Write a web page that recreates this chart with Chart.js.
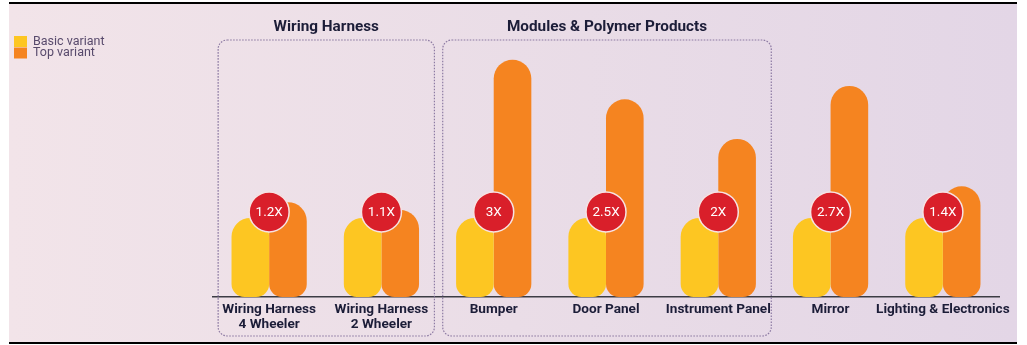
<!DOCTYPE html>
<html>
<head>
<meta charset="utf-8">
<script src="https://cdn.jsdelivr.net/npm/chart.js@4/dist/chart.umd.min.js"></script>
<style>
  html, body { margin: 0; padding: 0; background: #ffffff; }
  #wrap { position: relative; width: 1027px; height: 345px; }
</style>
</head>
<body>
<div id="wrap"><canvas id="c" width="1027" height="345"></canvas></div>
<script>
// ---- data ----
const categories = [
  ['Wiring Harness', '4 Wheeler'],
  ['Wiring Harness', '2 Wheeler'],
  'Bumper',
  'Door Panel',
  'Instrument Panel',
  'Mirror',
  'Lighting & Electronics'
];
const basicVariant = [1, 1, 1, 1, 1, 1, 1];
const topVariant = [1.2, 1.1, 3, 2.5, 2, 2.67, 1.4];
const multiplierLabels = ['1.2X', '1.1X', '3X', '2.5X', '2X', '2.7X', '1.4X'];
const seriesNames = ['Basic variant', 'Top variant'];
const groupLabels = ['Wiring Harness', 'Modules & Polymer Products'];
const groupStart = [0, 2];
const groupEnd = [1, 4];

// ---- style ----
const YELLOW = '#fdc622';
const ORANGE = '#f58420';
const BADGE = '#d91f2a';
const TEXT = '#1c1d38';
const FONT = 'Roboto, "Liberation Sans", sans-serif';

const backgroundPlugin = {
  id: 'bgPanel',
  beforeDraw(chart) {
    const ctx = chart.ctx;
    ctx.save();
    const g = ctx.createLinearGradient(9, 0, 1017, 0);
    g.addColorStop(0, '#f2e4e9');
    g.addColorStop(0.5, '#eadde7');
    g.addColorStop(1, '#e3d6e6');
    ctx.fillStyle = g;
    ctx.fillRect(9, 4, 1008, 338);
    ctx.fillStyle = '#000000';
    ctx.fillRect(9, 2, 1008, 2);
    ctx.fillRect(9, 342, 1008, 2);
    ctx.restore();
  }
};

const groupPlugin = {
  id: 'groups',
  beforeDatasetsDraw(chart) {
    const ctx = chart.ctx;
    const x = chart.scales.x;
    ctx.save();
    for (let g = 0; g < groupLabels.length; g++) {
      const left = x.getPixelForValue(groupStart[g]) - 51;
      const right = x.getPixelForValue(groupEnd[g]) + 53;
      const top = 40, bottom = 336, r = 9;
      ctx.beginPath();
      ctx.roundRect(left, top, right - left, bottom - top, r);
      ctx.setLineDash([1.6, 1.4]);
      ctx.lineWidth = 1.2;
      ctx.strokeStyle = 'rgba(125,105,150,0.85)';
      ctx.stroke();
      ctx.setLineDash([]);
      ctx.fillStyle = TEXT;
      ctx.font = 'bold 15.3px ' + FONT;
      ctx.textAlign = 'center';
      ctx.textBaseline = 'middle';
      ctx.fillText(groupLabels[g], (left + right) / 2, 27);
    }
    ctx.restore();
  }
};

const badgePlugin = {
  id: 'badges',
  afterDatasetsDraw(chart) {
    const ctx = chart.ctx;
    const x = chart.scales.x, y = chart.scales.y;
    ctx.save();
    for (let i = 0; i < categories.length; i++) {
      const cx = x.getPixelForValue(i);
      const cy = y.getPixelForValue(basicVariant[i]) - 6;
      ctx.beginPath();
      ctx.arc(cx, cy, 20, 0, Math.PI * 2);
      ctx.fillStyle = BADGE;
      ctx.fill();
      ctx.lineWidth = 1.5;
      ctx.strokeStyle = '#f6e3e3';
      ctx.stroke();
      ctx.fillStyle = '#ffffff';
      ctx.font = '13.5px ' + FONT;
      ctx.textAlign = 'center';
      ctx.textBaseline = 'middle';
      ctx.fillText(multiplierLabels[i], cx, cy + 1);
    }
    ctx.restore();
  }
};

const legendPlugin = {
  id: 'customLegend',
  afterDraw(chart) {
    const ctx = chart.ctx;
    ctx.save();
    chart.data.datasets.forEach((ds, k) => {
      const top = 36 + k * 11.5;
      ctx.fillStyle = ds.backgroundColor;
      ctx.fillRect(14, top, 13, 11);
      ctx.fillStyle = '#584a6c';
      ctx.font = '12.5px ' + FONT;
      ctx.textAlign = 'left';
      ctx.textBaseline = 'middle';
      ctx.fillText(ds.label, 33, top + 5.5);
    });
    ctx.restore();
  }
};

new Chart(document.getElementById('c'), {
  type: 'bar',
  data: {
    labels: categories,
    datasets: [
      {
        label: seriesNames[0],
        data: basicVariant,
        backgroundColor: YELLOW,
        borderRadius: { topLeft: 19, topRight: 19, bottomLeft: 13, bottomRight: 13 },
        borderSkipped: false,
        categoryPercentage: 0.67,
        barPercentage: 1.0
      },
      {
        label: seriesNames[1],
        data: topVariant,
        backgroundColor: ORANGE,
        borderRadius: { topLeft: 19, topRight: 19, bottomLeft: 13, bottomRight: 13 },
        borderSkipped: false,
        categoryPercentage: 0.67,
        barPercentage: 1.0
      }
    ]
  },
  options: {
    responsive: false,
    animation: false,
    devicePixelRatio: 1,
    layout: { padding: { left: 213, right: 28, top: 44, bottom: 0 } },
    plugins: {
      legend: { display: false },
      tooltip: { enabled: false }
    },
    scales: {
      x: {
        grid: { display: false, drawTicks: false },
        border: { display: true, color: '#3c3c44', width: 1.5 },
        ticks: {
          color: TEXT,
          font: { family: FONT, size: 13.6, weight: 'bold', lineHeight: 1.12 },
          padding: 5,
          maxRotation: 0,
          autoSkip: false
        },
        afterFit(scale) { scale.height = 48; }
      },
      y: {
        display: false,
        min: 0,
        max: 3.2
      }
    }
  },
  plugins: [backgroundPlugin, groupPlugin, badgePlugin, legendPlugin]
});
</script>
</body>
</html>
